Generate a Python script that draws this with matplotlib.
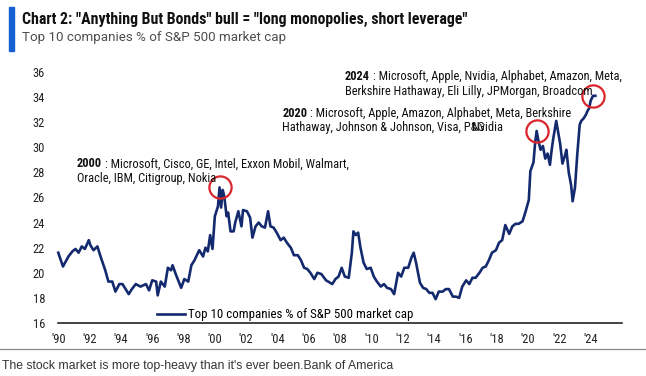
import matplotlib.pyplot as plt
from matplotlib.patches import Rectangle
from matplotlib.lines import Line2D
from matplotlib import font_manager
import numpy as np

# Top 10 companies as % of S&P 500 market cap
years = [1990.0, 1990.3, 1990.65, 1990.9, 1991.1, 1991.3, 1991.5, 1991.7, 1991.95, 1992.05,
         1992.25, 1992.5, 1992.7, 1993.0, 1993.2, 1993.45, 1993.65, 1993.9, 1994.1, 1994.3,
         1994.5, 1994.7, 1994.95, 1995.25, 1995.6, 1995.8, 1996.0, 1996.25, 1996.35, 1996.55,
         1996.8, 1997.0, 1997.2, 1997.3, 1997.5, 1997.85, 1998.05, 1998.3, 1998.5, 1998.7,
         1999.0, 1999.25, 1999.4, 1999.55, 1999.7, 1999.85, 2000.0, 2000.2, 2000.3, 2000.4,
         2000.5, 2000.6, 2000.75, 2000.85, 2001.0, 2001.2, 2001.3, 2001.5, 2001.7, 2001.8,
         2002.05, 2002.25, 2002.4, 2002.6, 2002.8, 2003.0, 2003.2, 2003.4, 2003.55, 2003.75,
         2003.95, 2004.2, 2004.4, 2004.6, 2004.85, 2005.05, 2005.3, 2005.5, 2005.7, 2005.9,
         2006.1, 2006.35, 2006.55, 2006.8, 2007.1, 2007.5, 2007.7, 2007.9, 2008.1, 2008.3,
         2008.55, 2008.75, 2008.85, 2009.0, 2009.15, 2009.3, 2009.5, 2009.7, 2009.95, 2010.15,
         2010.35, 2010.6, 2010.8, 2011.0, 2011.25, 2011.45, 2011.7, 2011.9, 2012.1, 2012.35,
         2012.55, 2012.7, 2012.85, 2013.1, 2013.3, 2013.5, 2013.7, 2013.9, 2014.1, 2014.3,
         2014.55, 2014.75, 2014.95, 2015.2, 2015.4, 2015.6, 2015.8, 2016.05, 2016.25, 2016.45,
         2016.65, 2016.9, 2017.1, 2017.3, 2017.5, 2017.7, 2017.95, 2018.15, 2018.35, 2018.55,
         2018.8, 2019.0, 2019.2, 2019.4, 2019.65, 2019.85, 2020.05, 2020.15, 2020.35, 2020.45,
         2020.55, 2020.65, 2020.8, 2020.95, 2021.1, 2021.25, 2021.4, 2021.5, 2021.6, 2021.8,
         2021.95, 2022.05, 2022.2, 2022.35, 2022.45, 2022.6, 2022.75, 2022.85, 2023.0, 2023.15,
         2023.3, 2023.4, 2023.55, 2023.7, 2023.8, 2023.9, 2024.0, 2024.15, 2024.3]
share = [21.6, 20.5, 21.3, 21.7, 21.9, 21.6, 22.1, 21.9, 22.6, 22.2,
         21.8, 22.1, 21.3, 20.2, 19.3, 19.3, 18.5, 19.1, 19.1, 18.7,
         18.3, 18.7, 19.1, 18.9, 19.1, 18.6, 19.4, 19.3, 18.2, 19.3,
         18.9, 20.4, 20.2, 20.6, 19.9, 18.8, 19.5, 19.3, 20.6, 21.0,
         21.8, 21.3, 22.0, 21.7, 23.0, 21.9, 24.5, 25.3, 26.8, 25.2,
         26.6, 26.1, 24.5, 24.8, 23.3, 23.3, 24.0, 24.9, 23.7, 25.0,
         24.9, 24.4, 22.8, 23.7, 24.0, 23.7, 23.6, 24.9, 23.7, 23.6,
         23.2, 22.6, 22.8, 22.4, 22.0, 21.4, 21.4, 21.0, 20.4, 20.3,
         20.0, 19.5, 20.0, 19.9, 19.4, 19.1, 19.5, 19.7, 20.4, 19.7,
         19.6, 21.6, 23.3, 23.0, 23.2, 22.0, 20.8, 20.3, 20.4, 19.7,
         19.3, 18.9, 19.1, 18.8, 18.7, 18.3, 20.0, 19.7, 20.4, 20.4,
         21.2, 21.6, 20.8, 19.2, 18.8, 18.7, 18.4, 18.4, 17.9, 18.5,
         18.5, 18.7, 18.7, 18.1, 18.1, 18.0, 18.9, 19.4, 19.1, 19.6,
         19.6, 20.0, 20.4, 20.5, 21.0, 21.6, 21.8, 22.4, 22.6, 23.8,
         23.1, 23.7, 23.9, 23.9, 24.1, 24.9, 25.8, 28.1, 28.8, 30.3,
         31.3, 30.6, 29.8, 30.1, 29.1, 29.5, 28.6, 29.7, 30.6, 32.1,
         31.0, 30.3, 28.7, 29.3, 29.8, 28.0, 27.0, 25.7, 26.8, 29.5,
         31.8, 32.1, 32.3, 32.6, 32.9, 33.1, 33.7, 34.1, 34.1]

x_ticks = list(range(1990, 2025, 2))
x_labels = ["'" + str(y)[2:] for y in x_ticks]
y_ticks = list(range(16, 37, 2))

series_name = "Top 10 companies % of S&P 500 market cap"
notes = [
    ("2000", "Microsoft, Cisco, GE, Intel, Exxon Mobil, Walmart,",
     "Oracle, IBM, Citigroup, Nokia", 1991.2, 28.67),
    ("2020", "Microsoft, Apple, Amazon, Alphabet, Meta, Berkshire",
     "Hathaway, Johnson & Johnson, Visa, P&G", 2004.3, 32.73),
    ("2024", "Microsoft, Apple, Nvidia, Alphabet, Amazon, Meta,",
     "Berkshire Hathaway, Eli Lilly, JPMorgan, Broadcom", 2008.3, 35.6),
]
peak_windows = [(1999.5, 2001.0), (2020.0, 2021.0), (2024.0, 2025.0)]

# narrow font if the machine has one, else Arial-like Liberation Sans, a bit smaller
installed = {f.name for f in font_manager.fontManager.ttflist}
k = 1.0
NARROW = ["Liberation Sans", "DejaVu Sans"]
for name in ["Liberation Sans Narrow", "Roboto Condensed", "Open Sans Condensed"]:
    if name in installed:
        NARROW = [name, "DejaVu Sans"]
        k = 1.2
        break

navy = "#142a6e"
red = "#d8262c"

fig = plt.figure(figsize=(6.46, 3.76), dpi=100)
ax = fig.add_axes([0.0902, 0.141, 0.8726, 0.6676])

ax.plot(years, share, color=navy, lw=1.9, label=series_name, clip_on=False)
ax.set_xlim(1990, 2026)
ax.set_ylim(16, 36)
ax.set_xticks(x_ticks)
ax.set_xticklabels(x_labels)
ax.set_yticks(y_ticks)
ax.tick_params(axis="both", length=0, labelsize=9, labelcolor="#222222")
ax.tick_params(axis="x", pad=7)
ax.tick_params(axis="y", pad=9.5)
for lab in ax.get_xticklabels() + ax.get_yticklabels():
    lab.set_family(NARROW)
for s in ["top", "right", "left"]:
    ax.spines[s].set_visible(False)
ax.spines["bottom"].set_color("#111111")
ax.spines["bottom"].set_linewidth(1.1)

# red circles around the peaks
yr = np.array(years)
sh = np.array(share)
for lo, hi in peak_windows:
    m = (yr >= lo) & (yr <= hi)
    i = np.argmax(np.where(m, sh, -1))
    ax.plot(yr[i], sh[i], "o", ms=16, mfc="none", mec=red, mew=1.6, clip_on=False)

# annotations
fs = 7.4 * k
for year, line1, line2, x, y in notes:
    t = ax.text(x, y, year, fontweight="bold", fontsize=fs, family=NARROW,
                va="center", ha="left", color="#111111")
    ax.annotate(" : " + line1, xy=(1, 0), xycoords=t, va="bottom", ha="left",
                fontsize=fs, family=NARROW, color="#111111")
    ax.text(x, y - 1.18, line2, fontsize=fs, family=NARROW, va="center",
            ha="left", color="#111111")
ax.text(2016.45, 31.55, "Nvidia", fontsize=fs, family=NARROW, va="center",
        ha="left", color="#111111")

ax.legend(loc="center left", bbox_to_anchor=(0.175, 0.032), frameon=False,
          handlelength=2.2, handletextpad=0.2, borderpad=0, borderaxespad=0,
          prop={"family": NARROW, "size": 7.7 * k})

# header
fig.patches.append(Rectangle((9 / 646, 1 - 51 / 376), 5 / 646, 44 / 376,
                             transform=fig.transFigure, color="#1560d2"))
fig.text(22 / 646, 1 - 19 / 376, 'Chart 2: "Anything But Bonds" bull = "long monopolies, short leverage"',
         fontsize=9.5 * k, fontweight="bold", family=NARROW, va="center", ha="left", color="#111111")
fig.text(22 / 646, 1 - 38 / 376, series_name, fontsize=9.6, family=["Roboto", "DejaVu Sans"],
         va="center", ha="left", color="#4d4d4d")

# footer
fig.lines.append(Line2D([0, 1], [1 - 348.5 / 376] * 2, transform=fig.transFigure,
                        color="#8a8a8a", lw=0.9))
fig.text(2 / 646, 1 - 366 / 376, "The stock market is more top-heavy than it's ever been.Bank of America",
         fontsize=8.8, family=["Liberation Sans", "DejaVu Sans"], va="center", ha="left",
         color="#333333")

fig.savefig("out.png", dpi=100)
